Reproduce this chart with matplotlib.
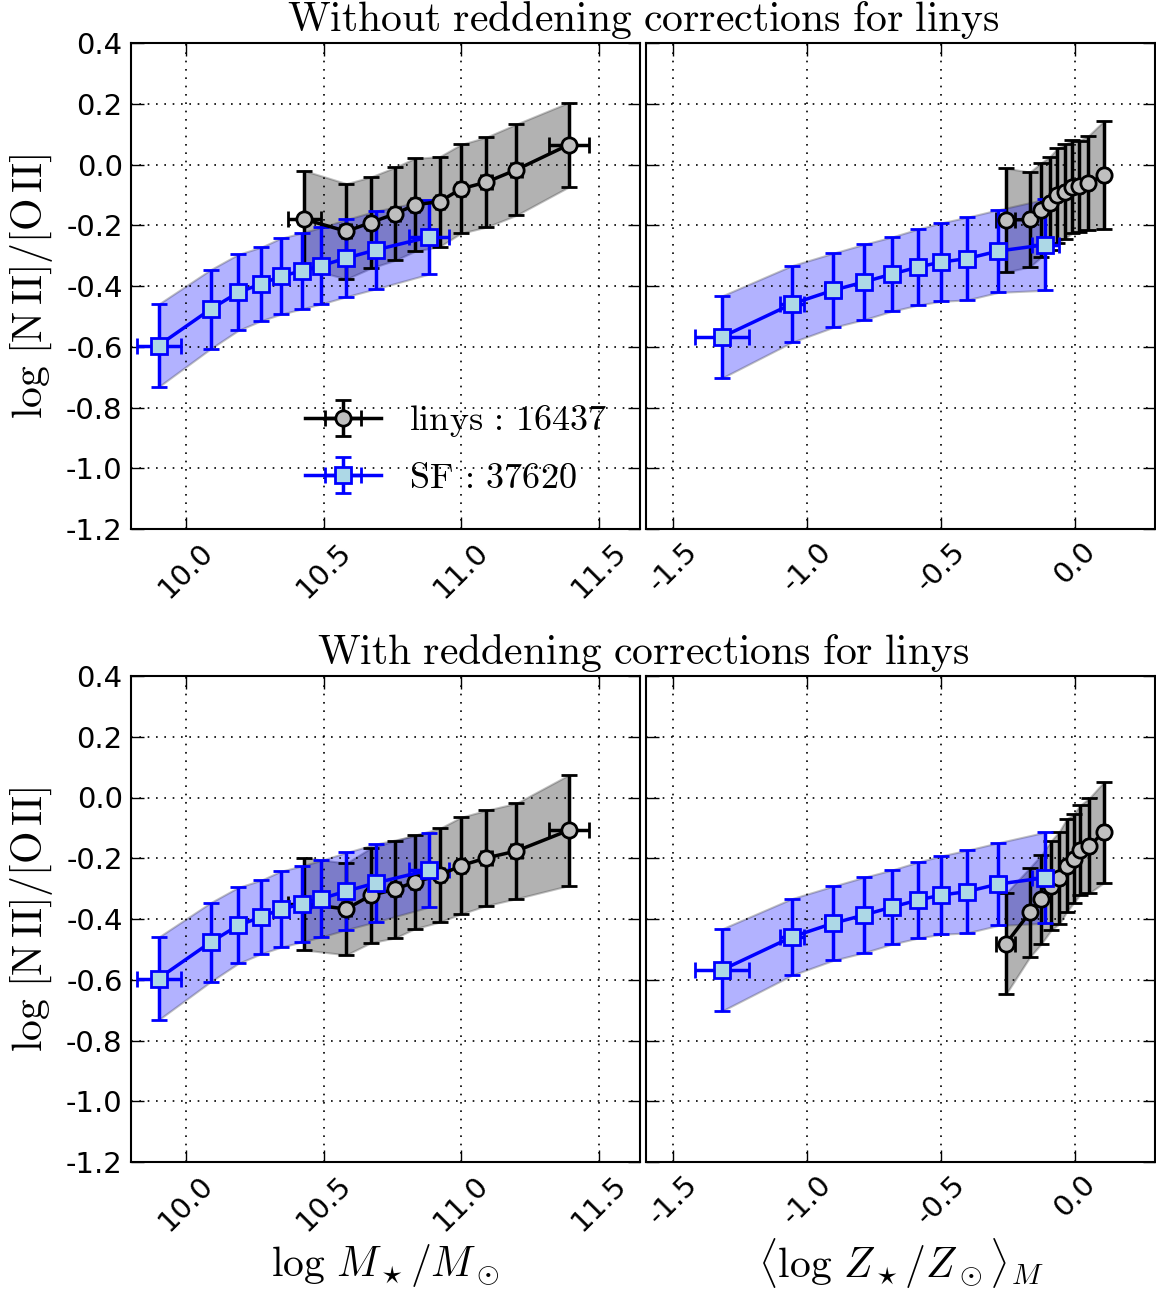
import matplotlib
matplotlib.use('Agg')
import matplotlib.pyplot as plt
import numpy as np
from matplotlib.ticker import MultipleLocator

plt.rcParams['mathtext.fontset'] = 'cm'
plt.rcParams['axes.unicode_minus'] = False
plt.rcParams['xtick.direction'] = 'in'
plt.rcParams['ytick.direction'] = 'in'
plt.rcParams['xtick.top'] = True
plt.rcParams['ytick.right'] = True
plt.rcParams['xtick.major.size'] = 9
plt.rcParams['ytick.major.size'] = 9
plt.rcParams['axes.linewidth'] = 1.5

# ---- SF galaxies (same in both rows) ----
sf_mass = [9.90, 10.09, 10.19, 10.274, 10.344, 10.423, 10.492, 10.583, 10.691, 10.882]
sf_mass_xerr = [0.08, 0.02, 0.015, 0.015, 0.015, 0.015, 0.015, 0.02, 0.02, 0.072]
sf_mass_y = [-0.596, -0.476, -0.421, -0.393, -0.368, -0.350, -0.333, -0.308, -0.281, -0.239]
sf_mass_err = [0.136, 0.130, 0.125, 0.121, 0.125, 0.125, 0.126, 0.127, 0.128, 0.122]

sf_z = [-1.317, -1.055, -0.901, -0.787, -0.683, -0.586, -0.497, -0.403, -0.285, -0.109]
sf_z_xerr = [0.10, 0.045, 0.03, 0.02, 0.02, 0.02, 0.02, 0.02, 0.03, 0.05]
sf_z_y = [-0.568, -0.459, -0.414, -0.387, -0.361, -0.338, -0.321, -0.310, -0.285, -0.264]
sf_z_err = [0.135, 0.126, 0.122, 0.124, 0.122, 0.125, 0.129, 0.136, 0.136, 0.150]

# ---- linys, stellar mass ----
ly_mass = [10.429, 10.583, 10.672, 10.761, 10.831, 10.922, 11.0, 11.092, 11.201, 11.391]
ly_mass_xerr = [0.06, 0.015, 0.015, 0.015, 0.015, 0.015, 0.015, 0.02, 0.02, 0.072]
ly_mass_y_raw = [-0.180, -0.220, -0.191, -0.162, -0.133, -0.122, -0.080, -0.058, -0.017, 0.065]
ly_mass_err_raw = [0.160, 0.157, 0.150, 0.153, 0.153, 0.148, 0.146, 0.148, 0.150, 0.139]
ly_mass_y_cor = [-0.350, -0.367, -0.322, -0.302, -0.278, -0.256, -0.224, -0.199, -0.176, -0.108]
ly_mass_err_cor = [0.152, 0.151, 0.156, 0.160, 0.154, 0.154, 0.159, 0.157, 0.157, 0.182]

# ---- linys, stellar metallicity ----
ly_z_raw = [-0.257, -0.167, -0.124, -0.092, -0.065, -0.037, -0.009, 0.016, 0.051, 0.109]
ly_z_y_raw = [-0.183, -0.181, -0.149, -0.127, -0.102, -0.089, -0.073, -0.072, -0.061, -0.035]
ly_z_err_raw = [0.171, 0.156, 0.155, 0.153, 0.155, 0.155, 0.153, 0.151, 0.155, 0.178]
ly_z_cor = [-0.257, -0.167, -0.124, -0.088, -0.057, -0.030, -0.004, 0.020, 0.054, 0.109]
ly_z_y_cor = [-0.482, -0.378, -0.335, -0.290, -0.264, -0.224, -0.201, -0.173, -0.159, -0.115]
ly_z_err_cor = [0.166, 0.147, 0.146, 0.147, 0.152, 0.153, 0.146, 0.147, 0.156, 0.166]
ly_z_xerr = [0.035, 0.01, 0.01, 0.01, 0.01, 0.01, 0.01, 0.01, 0.01, 0.01]

titles = ['Without reddening corrections for linys', 'With reddening corrections for linys']
n_linys = 16437
n_sf = 37620


def draw(ax, x, xerr, y, err, color, band, marker, mfc, label):
    x, y, err = np.array(x), np.array(y), np.array(err)
    ax.fill_between(x, y - err, y + err, facecolor=band, alpha=0.3,
                    edgecolor='0.2', linewidth=1.5)
    return ax.errorbar(x, y, yerr=err, xerr=xerr, color=color, marker=marker,
                       mfc=mfc, mec=color, ms=11, mew=2, lw=2.5, elinewidth=2.5,
                       capsize=5.5, capthick=2.5, label=label)


def style(ax, xlim, xstep, left):
    ax.set_xlim(*xlim)
    ax.set_ylim(-1.2, 0.4)
    ax.xaxis.set_major_locator(MultipleLocator(xstep))
    ax.yaxis.set_major_locator(MultipleLocator(0.2))
    ax.grid(True, color='k', linestyle=(0, (1, 4)), linewidth=1.2)
    ax.tick_params(labelsize=21, width=1, pad=6)
    plt.setp(ax.get_xticklabels(), rotation=45)
    if not left:
        ax.set_yticklabels([])


fig = plt.figure(figsize=(11.56, 12.98), dpi=100)
W, H = 1156.0, 1298.0
pos = {(0, 0): (131, 43), (0, 1): (646, 43), (1, 0): (131, 676), (1, 1): (646, 676)}

ly_sets = [
    (ly_mass_y_raw, ly_mass_err_raw, ly_z_raw, ly_z_y_raw, ly_z_err_raw),
    (ly_mass_y_cor, ly_mass_err_cor, ly_z_cor, ly_z_y_cor, ly_z_err_cor),
]

for row in range(2):
    my, me, zx, zy, ze = ly_sets[row]
    x0, y0 = pos[(row, 0)]
    axl = fig.add_axes([x0 / W, 1 - (y0 + 486) / H, 509 / W, 486 / H])
    h1 = draw(axl, ly_mass, ly_mass_xerr, my, me, 'k', 'k', 'o', '0.75',
              r'$\mathrm{linys}\,:\,%d$' % n_linys)
    h2 = draw(axl, sf_mass, sf_mass_xerr, sf_mass_y, sf_mass_err, 'b', 'b', 's',
              'lightblue', r'$\mathrm{SF}\,:\,%d$' % n_sf)
    style(axl, (9.8, 11.65), 0.5, True)
    axl.set_ylabel(r'$\log\,[\mathrm{N\,II}]/[\mathrm{O\,II}]$', fontsize=30, labelpad=8)

    x0, y0 = pos[(row, 1)]
    axr = fig.add_axes([x0 / W, 1 - (y0 + 486) / H, 509 / W, 486 / H])
    draw(axr, zx, ly_z_xerr, zy, ze, 'k', 'k', 'o', '0.75', None)
    draw(axr, sf_z, sf_z_xerr, sf_z_y, sf_z_err, 'b', 'b', 's', 'lightblue', None)
    style(axr, (-1.6, 0.3), 0.5, False)

    if row == 0:
        axl.legend(handles=[h1, h2], loc='lower right', bbox_to_anchor=(0.972, 0.033),
                   frameon=False, numpoints=1, fontsize=26, handlelength=2.1,
                   handletextpad=0.8, labelspacing=0.6, borderpad=0)
    else:
        axl.set_xlabel(r'$\log\,M_\star/M_\odot$', fontsize=30)
        axr.set_xlabel(r'$\langle\log\,Z_\star/Z_\odot\rangle_M$', fontsize=30)

    fig.text(643 / W, 1 - (20 if row == 0 else 653) / H,
             r'$\mathrm{%s}$' % titles[row].replace(' ', r'\ '),
             ha='center', va='center', fontsize=30)

fig.savefig('out.png', dpi=100)
